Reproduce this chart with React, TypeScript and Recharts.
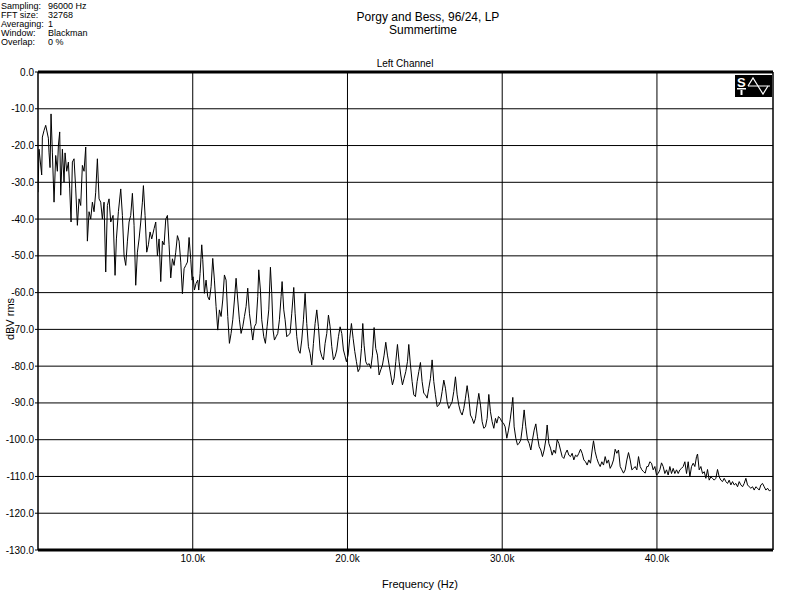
import React from 'react';
import { LineChart, Line, XAxis, YAxis, CartesianGrid, ReferenceLine } from 'recharts';

const seg1Freq = [0, 67, 239, 282, 390, 498, 670, 713, 778, 843, 929, 1037, 1144, 1252, 1317, 1403, 1468, 1576, 1683, 1748, 1855, 1963, 2049, 2136, 2222, 2329, 2437, 2545, 2653, 2760, 2868, 2976, 3084, 3191, 3299, 3407, 3515, 3622, 3730, 3838, 3946, 4053, 4161, 4269, 4377, 4484, 4592, 4700, 4851, 4980, 5067, 5196, 5347, 5454, 5562, 5670, 5778, 5885, 5993, 6101, 6209, 6316, 6424, 6532, 6640, 6747, 6812, 6920, 7027, 7135, 7243, 7351, 7502, 7609, 7717, 7825, 7933, 8040, 8148, 8256, 8364, 8471, 8579, 8687, 8795, 8902, 9010, 9118, 9226, 9333, 9441, 9549, 9657, 9764, 9872];
const seg1Db = [-32.7, -21, -28, -17.7, -15.9, -14.5, -18, -22, -26, -11.4, -22, -35.4, -22.7, -27, -20, -16.3, -33.5, -21, -30, -22, -27, -24.5, -31.8, -40.8, -24.5, -23.6, -31.8, -41.7, -34.5, -36.3, -25.4, -27, -20.4, -46, -38, -40, -35.4, -38, -32.7, -23.6, -34.5, -35.4, -40, -35.4, -54.4, -36.3, -34.5, -40.8, -39, -55.3, -45.4, -38, -31.8, -39, -50, -52.6, -46, -40.8, -39, -33, -41.7, -58, -49, -45.4, -40.8, -35.4, -30.9, -39, -49, -47, -43.5, -45.4, -42.6, -40.8, -50, -45.4, -57, -46, -47, -40, -39, -47, -56, -50.8, -52.6, -49, -44.5, -46, -51.7, -60.3, -53.5, -52.6, -51.7, -45, -51];

const seg2Freq = [9957, 10022, 10108, 10216, 10323, 10388, 10474, 10582, 10647, 10754, 10862, 10970, 11077, 11185, 11293, 11401, 11508, 11616, 11724, 11832, 11939, 12047, 12155, 12263, 12370, 12478, 12586, 12694, 12801, 12909, 13017, 13125, 13232, 13340, 13448, 13555, 13663, 13771, 13879, 13986, 14094, 14202, 14267, 14374, 14460, 14590, 14697, 14805, 14913, 15021, 15107, 15193, 15279, 15387, 15495, 15602, 15710, 15775, 15883, 15969, 16076, 16184, 16292, 16400, 16529, 16615, 16723, 16831, 16938, 17046, 17154, 17262, 17369, 17477, 17585, 17692, 17800, 17908, 18016, 18123, 18231, 18339, 18447, 18554, 18662, 18770, 18878, 18985, 19093, 19201, 19309, 19416, 19524, 19632, 19740];
const seg2Db = [-56.6, -55.7, -59.3, -57.5, -56.6, -59.3, -54.8, -47, -51, -60.2, -56.6, -61.1, -62, -58.4, -50.7, -56.6, -63.8, -70.2, -64.7, -66.5, -62, -55.2, -56.6, -66.5, -73.8, -71.1, -67.4, -62, -56.1, -62, -67.4, -71.1, -69.3, -66.5, -63.8, -58.8, -65.6, -69.3, -72.9, -69.3, -68.4, -61.1, -53.8, -59.3, -67.4, -72, -73.8, -69.3, -64.7, -53.1, -60.2, -70.2, -72.9, -72, -71.1, -67.4, -61.1, -57, -64.7, -67.4, -72, -71.5, -71.1, -65.6, -58.6, -65.6, -72, -75.6, -76.5, -72.9, -67.4, -60.2, -68.4, -74.7, -76.5, -79.7, -73.8, -68.4, -64.7, -69.3, -75.6, -77.4, -78.3, -73.8, -71.1, -66.1, -69.3, -74.7, -78.3, -77.4, -75.6, -72, -69.3, -71.1, -75.6];

const seg3Freq = [19825, 19933, 20041, 20148, 20256, 20364, 20472, 20579, 20687, 20795, 20903, 20989, 21075, 21183, 21290, 21398, 21506, 21614, 21721, 21829, 21937, 22045, 22152, 22260, 22368, 22475, 22583, 22691, 22799, 22906, 23014, 23122, 23230, 23337, 23445, 23553, 23661, 23768, 23876, 23962, 24070, 24178, 24285, 24393, 24501, 24609, 24716, 24824, 24932, 25040, 25147, 25255, 25363, 25470, 25578, 25686, 25794, 25901, 26009, 26117, 26225, 26332, 26440, 26548, 26656, 26763, 26871, 26979, 27087, 27194, 27302, 27410, 27517, 27625, 27733, 27841, 27948, 28056, 28164, 28272, 28379, 28487, 28595, 28703, 28810, 28918, 29026, 29134, 29241, 29349, 29457, 29565];
const seg3Db = [-77, -78.8, -77, -72.4, -68.4, -72.4, -76, -78.8, -81.5, -80.6, -75.2, -68.4, -74.3, -78.8, -79.7, -79.3, -80.6, -77, -69.5, -75.2, -77, -82.4, -81, -79.7, -77, -73.5, -77, -79.7, -82.4, -85.1, -83.3, -78.8, -74.1, -78.8, -82.4, -85.1, -83.3, -81.5, -78.8, -74.1, -79.7, -84.2, -87.8, -88.3, -84.2, -81.5, -79, -84.2, -87.4, -87.8, -88.7, -86, -83.3, -78.3, -84.2, -87.8, -91, -90.6, -89.7, -86.9, -83.8, -86, -89.7, -91.5, -90.6, -89.7, -86.9, -82.9, -87.8, -90.6, -92.4, -93.3, -91.5, -88.7, -85.3, -88.7, -93.3, -94.2, -95.6, -94.2, -90.6, -87.4, -90.6, -95.1, -96.9, -96.5, -94.2, -87.7, -92.4, -95.1, -96.9, -94.2];

const seg4Freq = [29651, 29759, 29867, 29974, 30082, 30190, 30298, 30405, 30513, 30621, 30685, 30772, 30879, 30987, 31095, 31203, 31310, 31418, 31526, 31634, 31741, 31849, 31957, 32064, 32172, 32280, 32388, 32495, 32603, 32711, 32819, 32905, 33013, 33120, 33228, 33336, 33443, 33551, 33659, 33767, 33874, 33982, 34090, 34198, 34305, 34413, 34521, 34629, 34736, 34844, 34952, 35060, 35167, 35275, 35383, 35490, 35598, 35706, 35814, 35900, 36008, 36115, 36223, 36331, 36439, 36546, 36654, 36762, 36869, 36977, 37085, 37193, 37300, 37408, 37516, 37624, 37731, 37839, 37947, 38055, 38162, 38270, 38378, 38486, 38593, 38701, 38809, 38917, 39024, 39132, 39240, 39347];
const seg4Db = [-95.5, -93.7, -94.2, -95.1, -95.5, -96.5, -99.6, -97.4, -94.6, -91, -88.5, -96.5, -99.6, -101.4, -101, -100, -96.5, -91.9, -96.5, -100, -101, -102.8, -100, -97.4, -95.7, -99.2, -101.9, -102.8, -104.6, -102.8, -100, -96, -101, -102.3, -104.2, -102.8, -103.7, -100, -101, -102.8, -104.6, -105.1, -103.7, -102.8, -104.2, -104.6, -103.7, -105.5, -104.2, -104.6, -103.7, -102.6, -103.7, -105.5, -106, -106.9, -105.5, -106.4, -102.8, -100.3, -103.3, -105.1, -106.4, -107.3, -106, -106.9, -104.6, -106.4, -105.5, -107.8, -106.9, -105.5, -102.6, -103.7, -102.8, -107.3, -108.2, -109.1, -108.2, -105.5, -103.5, -105.5, -108.2, -107.8, -107.3, -108.2, -104.6, -107.3, -108.2, -108.7, -109.1, -107.3];

const seg5Freq = [39434, 39541, 39649, 39757, 39865, 39972, 40080, 40188, 40296, 40403, 40511, 40619, 40726, 40834, 40942, 41050, 41157, 41265, 41373, 41481, 41588, 41696, 41804, 41912, 42019, 42127, 42235, 42343, 42450, 42558, 42623, 42730, 42838, 42946, 43054, 43161, 43269, 43377, 43485, 43592, 43700, 43808, 43915, 44023, 44131, 44239, 44346, 44454, 44562, 44670, 44777, 44885, 44993, 45101, 45208, 45316, 45424, 45532, 45639, 45747, 45855, 45962, 46070, 46178, 46286, 46393, 46501, 46609, 46717, 46824, 46932, 47040, 47148, 47255, 47363];
const seg5Db = [-107.3, -106, -106.4, -108.2, -107.3, -109.6, -109.2, -108.2, -106.3, -107.3, -109.2, -108.2, -109.6, -107.3, -109.2, -107.8, -109.2, -108.2, -109.2, -108.2, -107.8, -107.3, -106, -109.2, -106, -110.1, -107.3, -106.4, -107.3, -104.6, -103.9, -108.2, -107.3, -109.2, -108.7, -110.5, -108.1, -111, -110.1, -110.5, -111, -110.5, -108.1, -110.1, -111, -111.4, -110.5, -111.4, -111.9, -111, -112.3, -111.4, -112.3, -111.9, -112.8, -111.4, -112.3, -112.8, -111.9, -110.5, -112.3, -112.8, -113.2, -112.8, -113.7, -112.8, -113.2, -113.7, -112.3, -111.9, -112.8, -113.7, -113.2, -113.9, -113.7];

const xTicks = [10000, 20000, 30000, 40000];
const yTicks = [0, -10, -20, -30, -40, -50, -60, -70, -80, -90, -100, -110, -120, -130];
const infoLabels = ['Sampling:', 'FFT size:', 'Averaging:', 'Window:', 'Overlap:'];
const infoValues = ['96000 Hz', '32768', '1', 'Blackman', '0 %'];

const freqHz = [...seg1Freq, ...seg2Freq, ...seg3Freq, ...seg4Freq, ...seg5Freq];
const levelDb = [...seg1Db, ...seg2Db, ...seg3Db, ...seg4Db, ...seg5Db];
const n = Math.min(freqHz.length, levelDb.length);
const data = freqHz.slice(0, n).map((f, i) => ({ f, db: levelDb[i] }));

const FONT = '"Liberation Sans", Arial, Helvetica, sans-serif';

export default function App() {
  return (
    <div style={{ position: 'absolute', left: 0, top: 0, width: 799, height: 595, background: '#fff', fontFamily: FONT, color: '#000', overflow: 'hidden' }}>
      <LineChart width={799} height={595} data={data} margin={{ top: 72, right: 26, bottom: 15, left: 0 }}>
        <CartesianGrid stroke="#000" strokeWidth={1} />
        <XAxis
          dataKey="f"
          type="number"
          domain={[0, 47500]}
          ticks={xTicks}
          tickFormatter={(v: number) => (v / 1000).toFixed(1) + 'k'}
          height={30}
          axisLine={{ stroke: '#000', strokeWidth: 3 }}
          tickLine={false}
          tickSize={3}
          tickMargin={2}
          tick={{ fill: '#000', fontSize: 10, fontFamily: FONT }}
          allowDataOverflow
        />
        <YAxis
          type="number"
          domain={[-130, 0]}
          ticks={yTicks}
          tickFormatter={(v: number) => v.toFixed(1)}
          width={38}
          axisLine={{ stroke: '#000', strokeWidth: 1 }}
          tickLine={{ stroke: '#000' }}
          tickSize={3}
          tickMargin={1}
          tick={{ fill: '#000', fontSize: 10, fontFamily: FONT }}
          allowDataOverflow
        />
        <ReferenceLine y={0} stroke="#000" strokeWidth={3} />
        <ReferenceLine x={47500} stroke="#000" strokeWidth={1} />
        <Line type="linear" dataKey="db" stroke="#000" strokeWidth={1} dot={false} activeDot={false} isAnimationActive={false} />
      </LineChart>

      {infoLabels.map((t, i) => (
        <div key={t} style={{ position: 'absolute', left: 1, top: 0.5 + i * 9, fontSize: 9, lineHeight: '10px', whiteSpace: 'nowrap' }}>{t}</div>
      ))}
      {infoValues.map((t, i) => (
        <div key={t} style={{ position: 'absolute', left: 48, top: 0.5 + i * 9, fontSize: 9, lineHeight: '10px', whiteSpace: 'nowrap' }}>{t}</div>
      ))}

      <div style={{ position: 'absolute', left: 428, top: 11, transform: 'translateX(-50%)', fontSize: 12, lineHeight: '13px', whiteSpace: 'nowrap' }}>Porgy and Bess, 96/24, LP</div>
      <div style={{ position: 'absolute', left: 423, top: 24, transform: 'translateX(-50%)', fontSize: 12, lineHeight: '13px', whiteSpace: 'nowrap' }}>Summertime</div>
      <div style={{ position: 'absolute', left: 405, top: 58, transform: 'translateX(-50%)', fontSize: 10, lineHeight: '11px', whiteSpace: 'nowrap' }}>Left Channel</div>
      <div style={{ position: 'absolute', left: 420, top: 578, transform: 'translateX(-50%)', fontSize: 11, lineHeight: '12px', whiteSpace: 'nowrap' }}>Frequency (Hz)</div>
      <div style={{ position: 'absolute', left: 10, top: 319, transform: 'translate(-50%, -50%) rotate(-90deg)', fontSize: 11, lineHeight: '12px', whiteSpace: 'nowrap' }}>dBV rms</div>

      <svg style={{ position: 'absolute', left: 735, top: 75 }} width={37} height={22} viewBox="0 0 37 22">
        <rect x={0} y={0} width={37} height={22} fill="#000" />
        <text x={2} y={12} fill="#fff" fontSize={13} fontWeight="bold" fontFamily={FONT}>S</text>
        <rect x={2} y={13} width={9} height={1.5} fill="#fff" />
        <rect x={5.5} y={15} width={2} height={5} fill="#fff" />
        <line x1={13} y1={11} x2={35} y2={11} stroke="#fff" strokeWidth={1} />
        <path d="M13 11 L18 3 L23 11 L28 19 L33 11" fill="none" stroke="#fff" strokeWidth={1.2} />
      </svg>
    </div>
  );
}
